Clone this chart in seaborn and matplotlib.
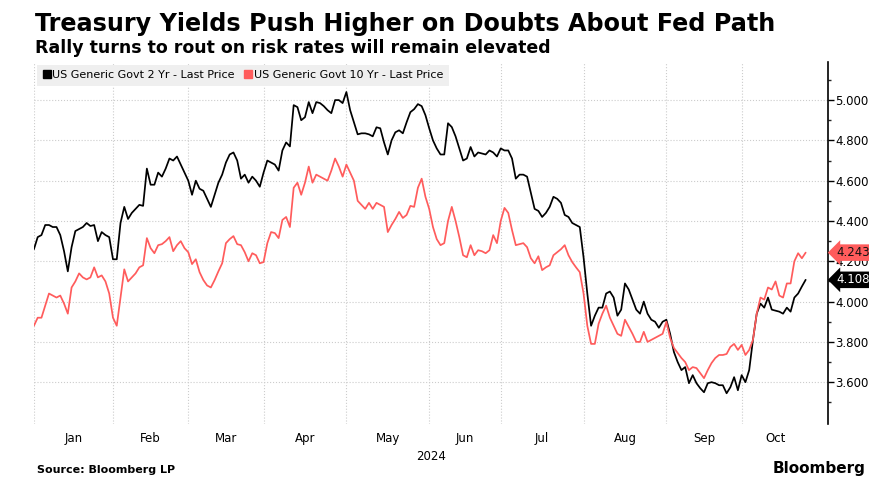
import numpy as np
import pandas as pd
import seaborn as sns
import matplotlib.pyplot as plt
from matplotlib.lines import Line2D
from matplotlib.ticker import FixedLocator, FormatStrFormatter

# trading days per month, Jan..Oct 2024
months = ['Jan', 'Feb', 'Mar', 'Apr', 'May', 'Jun', 'Jul', 'Aug', 'Sep', 'Oct']
month_days = [21, 20, 20, 22, 22, 19, 22, 22, 20, 18]

series_names = ['US Generic Govt 2 Yr - Last Price', 'US Generic Govt 10 Yr - Last Price']

two_yr = [
    4.26, 4.32, 4.33, 4.38, 4.38, 4.37, 4.37, 4.33, 4.25, 4.15,
    4.27, 4.35, 4.36, 4.37, 4.39, 4.375, 4.38, 4.30, 4.345, 4.33,
    4.32, 4.21, 4.21, 4.39, 4.47, 4.41, 4.44, 4.46, 4.48, 4.475,
    4.66, 4.58, 4.58, 4.64, 4.62, 4.66, 4.71, 4.70, 4.72, 4.68,
    4.64, 4.60, 4.53, 4.60, 4.56, 4.55, 4.51, 4.47, 4.53, 4.59,
    4.63, 4.69, 4.73, 4.74, 4.70, 4.61, 4.63, 4.59, 4.62, 4.60,
    4.57, 4.64, 4.70, 4.69, 4.68, 4.65, 4.75, 4.79, 4.77, 4.975,
    4.965, 4.90, 4.915, 4.99, 4.935, 4.99, 4.985, 4.97, 4.95, 4.935,
    5.00, 5.00, 4.985, 5.04, 4.95, 4.89, 4.83, 4.835, 4.835, 4.83,
    4.82, 4.865, 4.86, 4.79, 4.73, 4.80, 4.84, 4.85, 4.835, 4.89,
    4.94, 4.955, 4.98, 4.97, 4.925, 4.86, 4.80, 4.76, 4.73, 4.73,
    4.885, 4.866, 4.82, 4.76, 4.70, 4.71, 4.767, 4.72, 4.74, 4.735,
    4.73, 4.75, 4.74, 4.72, 4.76, 4.75, 4.75, 4.71, 4.61, 4.63,
    4.63, 4.62, 4.54, 4.46, 4.45, 4.42, 4.44, 4.47, 4.52, 4.51,
    4.49, 4.43, 4.42, 4.39, 4.38, 4.37, 4.22, 4.04, 3.88, 3.93,
    3.97, 3.97, 4.04, 4.05, 4.02, 3.93, 3.96, 4.09, 4.06, 4.01,
    3.96, 3.94, 4.00, 3.94, 3.91, 3.90, 3.87, 3.90, 3.91, 3.84,
    3.75, 3.70, 3.66, 3.675, 3.595, 3.635, 3.595, 3.57, 3.55, 3.595,
    3.60, 3.595, 3.585, 3.585, 3.545, 3.575, 3.625, 3.56, 3.635, 3.60,
    3.66, 3.81, 3.94, 3.99, 3.97, 4.02, 3.96, 3.955, 3.95, 3.94,
    3.97, 3.95, 4.02, 4.04, 4.075, 4.108,
]

ten_yr = [
    3.88, 3.92, 3.92, 3.98, 4.04, 4.03, 4.02, 4.03, 3.99, 3.94,
    4.07, 4.10, 4.14, 4.12, 4.11, 4.12, 4.17, 4.12, 4.13, 4.10,
    4.04, 3.92, 3.88, 4.02, 4.16, 4.10, 4.12, 4.14, 4.17, 4.18,
    4.315, 4.265, 4.24, 4.28, 4.285, 4.30, 4.32, 4.25, 4.28, 4.30,
    4.265, 4.245, 4.186, 4.21, 4.146, 4.107, 4.08, 4.07, 4.107, 4.15,
    4.19, 4.29, 4.31, 4.325, 4.285, 4.28, 4.245, 4.20, 4.24, 4.23,
    4.19, 4.196, 4.29, 4.345, 4.34, 4.315, 4.405, 4.42, 4.37, 4.565,
    4.59, 4.53, 4.59, 4.67, 4.59, 4.63, 4.62, 4.61, 4.60, 4.65,
    4.71, 4.67, 4.62, 4.68, 4.64, 4.60, 4.50, 4.48, 4.46, 4.49,
    4.46, 4.49, 4.48, 4.47, 4.345, 4.38, 4.41, 4.445, 4.415, 4.43,
    4.475, 4.47, 4.565, 4.61, 4.52, 4.46, 4.37, 4.31, 4.28, 4.29,
    4.40, 4.47, 4.40, 4.32, 4.23, 4.22, 4.28, 4.23, 4.255, 4.25,
    4.24, 4.255, 4.33, 4.29, 4.40, 4.465, 4.44, 4.355, 4.28, 4.285,
    4.29, 4.27, 4.215, 4.19, 4.225, 4.156, 4.17, 4.18, 4.23, 4.245,
    4.26, 4.28, 4.23, 4.196, 4.17, 4.146, 4.04, 3.88, 3.79, 3.79,
    3.89, 3.94, 3.98, 3.92, 3.88, 3.84, 3.83, 3.91, 3.875, 3.84,
    3.80, 3.80, 3.85, 3.80, 3.81, 3.82, 3.83, 3.84, 3.90, 3.82,
    3.77, 3.745, 3.72, 3.70, 3.66, 3.675, 3.67, 3.645, 3.62, 3.66,
    3.695, 3.72, 3.735, 3.735, 3.74, 3.775, 3.79, 3.76, 3.785, 3.735,
    3.76, 3.81, 3.94, 4.02, 4.01, 4.07, 4.06, 4.10, 4.03, 4.02,
    4.09, 4.09, 4.20, 4.24, 4.215, 4.243,
]

y_labels = [3.6, 3.8, 4.0, 4.2, 4.4, 4.6, 4.8, 5.0]
y_minor = [3.5, 3.7, 3.9, 4.1, 4.3, 4.5, 4.7, 4.9, 5.1]

colors = ['#000000', '#ff5c5c']

n = len(two_yr)
day = np.arange(n)
df = pd.DataFrame({
    'day': np.concatenate([day, day]),
    'yield': two_yr + ten_yr,
    'series': [series_names[0]] * n + [series_names[1]] * n,
})

sns.set_style('white')
plt.rcParams['font.family'] = ['DejaVu Sans']
plt.rcParams['text.color'] = 'black'

fig = plt.figure(figsize=(8.7, 4.92), dpi=100)
ax = fig.add_axes([0.039, 0.138, 0.913, 0.736])

sns.lineplot(data=df, x='day', y='yield', hue='series', hue_order=series_names,
             palette=colors, linewidth=1.25, ax=ax, legend=False)

# month boundaries (grid) and month labels centered in each month
starts = np.concatenate([[0], np.cumsum(month_days)[:-1]])
mids = starts + np.array(month_days) / 2
ax.set_xlim(0, 211)
ax.set_xticks(mids)
ax.set_xticklabels(months, fontsize=8.5, color='black')
ax.set_xticks(starts, minor=True)
ax.tick_params(axis='x', which='both', length=0, pad=6)
ax.xaxis.grid(True, which='minor', color='#cccccc', linestyle=':', linewidth=0.8)
ax.set_xlabel('2024', fontsize=8.5, color='black', labelpad=3)

ax.set_ylim(3.392, 5.189)
ax.yaxis.tick_right()
ax.yaxis.set_major_locator(FixedLocator(y_labels))
ax.yaxis.set_minor_locator(FixedLocator(y_minor))
ax.yaxis.set_major_formatter(FormatStrFormatter('%.3f'))
ax.tick_params(axis='y', which='major', direction='out', length=4, width=1,
               labelsize=8.5, colors='black', pad=1)
ax.tick_params(axis='y', which='minor', direction='out', length=2.5, width=1)
ax.yaxis.grid(True, which='major', color='#cccccc', linestyle=':', linewidth=0.8)
ax.set_ylabel('')

for side in ['left', 'top', 'bottom']:
    ax.spines[side].set_visible(False)
ax.spines['right'].set_color('black')
ax.spines['right'].set_linewidth(1.2)

# legend band at the top of the plot
handles = [Line2D([0], [0], marker='s', linestyle='', color=c, markersize=6) for c in colors]
leg = ax.legend(handles, series_names, loc='upper left', ncol=2, fontsize=8,
                frameon=True, fancybox=False, borderaxespad=0.25, handletextpad=0.1,
                columnspacing=0.8, handlelength=0.8, borderpad=0.5)
leg.get_frame().set_facecolor('#efefef')
leg.get_frame().set_edgecolor('none')
leg.get_frame().set_alpha(1)

# last-value tags on the right axis
for vals, c, tc in [(ten_yr, colors[1], '#111111'), (two_yr, colors[0], 'white')]:
    ax.annotate(f'{vals[-1]:.3f}', xy=(1, vals[-1]), xycoords=('axes fraction', 'data'),
                xytext=(6, 0), textcoords='offset points', va='center', ha='left',
                fontsize=8.5, color=tc, annotation_clip=False,
                bbox=dict(boxstyle='larrow,pad=0.15', fc=c, ec='none'))

fig.text(0.040, 0.938, 'Treasury Yields Push Higher on Doubts About Fed Path',
         fontsize=17.2, fontweight='bold', va='baseline', color='black')
fig.text(0.040, 0.892, 'Rally turns to rout on risk rates will remain elevated',
         fontsize=12.5, fontweight='bold', va='baseline', color='black')
fig.text(0.042, 0.038, 'Source: Bloomberg LP', fontsize=8, fontweight='bold',
         va='baseline', color='black')
fig.text(0.888, 0.038, 'Bloomberg', fontsize=11, fontweight='bold',
         va='baseline', color='black')

fig.savefig('out.png', dpi=100)
